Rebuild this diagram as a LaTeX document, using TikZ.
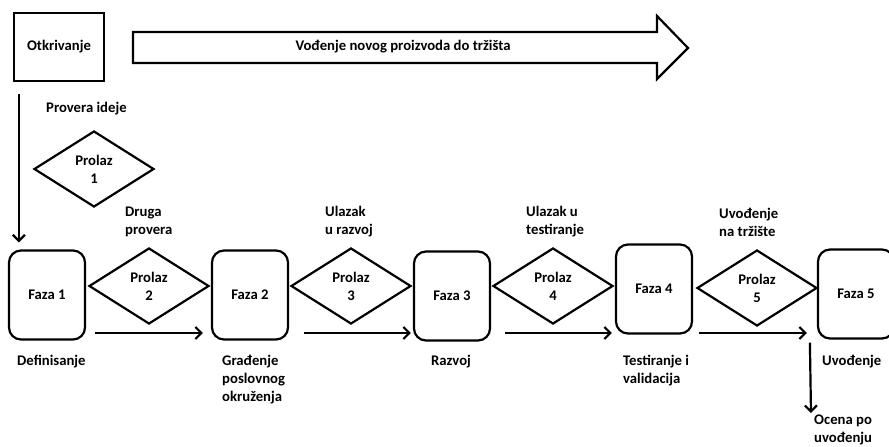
\documentclass[tikz,border=0pt]{standalone}
\usepackage{fontspec}
\setmainfont{Carlito}
\usepackage{tikz}
\usetikzlibrary{shapes.geometric,arrows.meta}

\begin{document}
\begin{tikzpicture}[x=1pt,y=-1pt,
	every node/.style={font=\bfseries\fontsize{14.7}{18}\selectfont},
	kutija/.style={draw=black,line width=2.2pt,minimum width=90pt,minimum height=68pt},
	faza/.style={draw=black,line width=2.2pt,rounded corners=12pt,minimum width=76pt,minimum height=89pt},
	prolaz/.style={draw=black,diamond,line width=2.2pt,inner sep=0pt,minimum width=120pt,minimum height=76pt,align=center},
	natpis/.style={anchor=west,inner sep=0pt,align=left},
	tok/.style={-{Straight Barb[length=6pt,width=12pt]},line width=2.2pt}]
	
	\clip (0,0) rectangle (889,447);
	
	\node[kutija] (otk) at (59, 47)     {Otkrivanje};
	\draw[line width=2.2pt] (133,32) -- (657,32) -- (657,16) -- (688,48) -- (657,79) -- (657,63) -- (133,63) -- cycle;
	\node (vod) at (403, 47)     {Vođenje novog proizvoda do tržišta};
	
	\node[faza] (f1) at (47, 295)     {Faza 1};
	\node[faza] (f2) at (250, 295)     {Faza 2};
	\node[faza] (f3) at (452, 296)     {Faza 3};
	\node[faza] (f4) at (654, 289)     {Faza 4};
	\node[faza] (f5) at (856, 294)     {Faza 5};
	
	\node[prolaz] (p1) at (94, 169)     {Prolaz\\1};
	\node[prolaz] (p2) at (149, 286)     {Prolaz\\2};
	\node[prolaz] (p3) at (351, 286)     {Prolaz\\3};
	\node[prolaz] (p4) at (553, 286)     {Prolaz\\4};
	\node[prolaz] (p5) at (757, 288)     {Prolaz\\5};
	
	\node[natpis] (pi) at (46, 109)     {Provera ideje};
	\node[natpis] (dp) at (125, 222)     {Druga\\provera};
	\node[natpis] (ur) at (325, 222)     {Ulazak\\u razvoj};
	\node[natpis] (ut) at (526, 222)     {Ulazak u\\testiranje};
	\node[natpis] (un) at (719, 222)     {Uvođenje\\na tržište};
	\node[natpis] (de) at (17, 362)     {Definisanje};
	\node[natpis] (gr) at (222, 380)     {Građenje\\poslovnog\\okruženja};
	\node[natpis] (ra) at (431, 362)     {Razvoj};
	\node[natpis] (te) at (623, 371)     {Testiranje i\\validacija};
	\node[natpis] (uv) at (822, 362)     {Uvođenje};
	\node[natpis] (oc) at (814, 430)     {Ocena po\\uvođenju};
	
	\coordinate (red) at (0, 333);
	\coordinate (kraj) at (811, 413);
	
	\draw[tok] ([xshift=6pt,yshift=-12pt]otk.south west) -- ([xshift=11pt,yshift=7pt]f1.north west);
	\draw[tok,shorten <=9pt,shorten >=8pt] (f1.east |- red) -- (f2.west |- red);
	\draw[tok,shorten <=15pt,shorten >=2pt] (f2.east |- red) -- (f3.west |- red);
	\draw[tok,shorten <=14pt,shorten >=3pt] (f3.east |- red) -- (f4.west |- red);
	\draw[tok,shorten <=6pt,shorten >=10pt] (f4.east |- red) -- (f5.west |- red);
	\draw[tok] ([xshift=-7pt,yshift=-3pt]f5.south west) -- (kraj);
\end{tikzpicture}
\end{document}
